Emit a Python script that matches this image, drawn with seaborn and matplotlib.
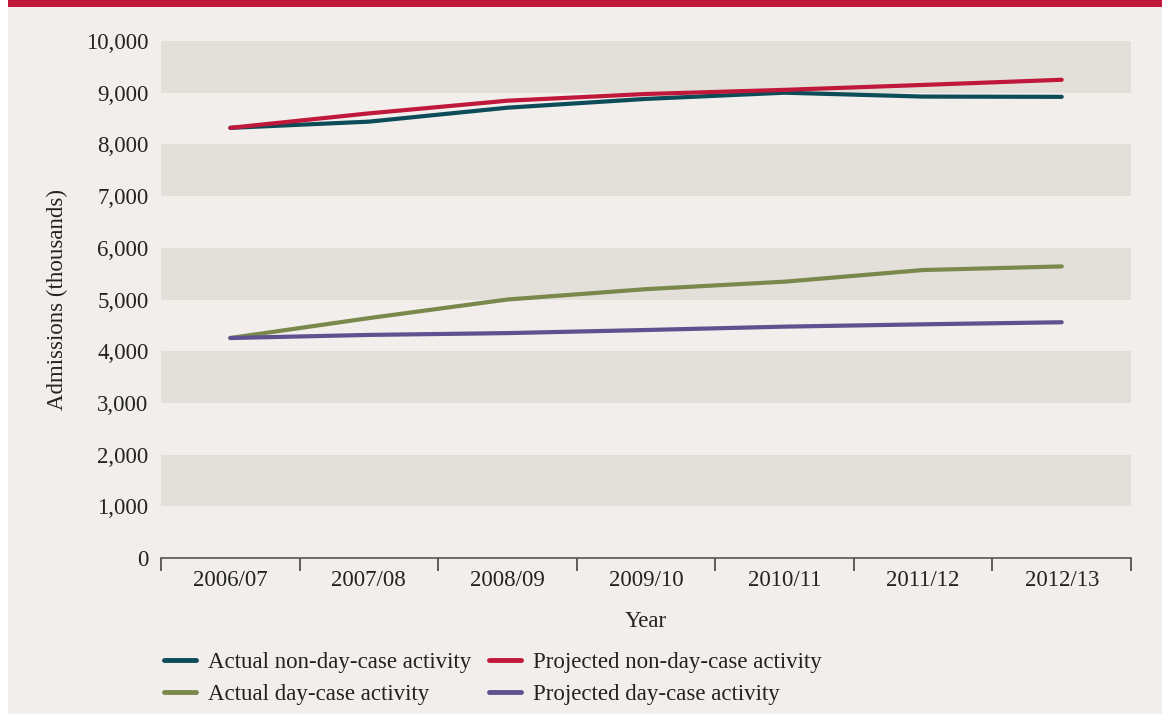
import matplotlib
matplotlib.use("Agg")
import matplotlib.pyplot as plt
import seaborn as sns
import pandas as pd
from matplotlib.patches import Rectangle
from matplotlib.lines import Line2D
from matplotlib.ticker import FuncFormatter, FixedLocator

years = ["2006/07", "2007/08", "2008/09", "2009/10", "2010/11", "2011/12", "2012/13"]
actual_non_day = [8320, 8440, 8710, 8880, 9000, 8925, 8920]
projected_non_day = [8320, 8600, 8845, 8975, 9055, 9150, 9250]
actual_day = [4255, 4640, 5000, 5200, 5345, 5570, 5640]
projected_day = [4255, 4315, 4350, 4410, 4475, 4520, 4560]

series_names = ["Actual non-day-case activity", "Projected non-day-case activity",
                "Actual day-case activity", "Projected day-case activity"]
series_vals = [actual_non_day, projected_non_day, actual_day, projected_day]
colors = {"Actual non-day-case activity": "#0c4b58",
          "Projected non-day-case activity": "#c0183a",
          "Actual day-case activity": "#7a884b",
          "Projected day-case activity": "#5e5190"}

rows = []
for name, vals in zip(series_names, series_vals):
    for i, (yr, v) in enumerate(zip(years, vals)):
        rows.append({"pos": i, "Year": yr, "value": v, "series": name})
df = pd.DataFrame(rows)

sns.set_theme(style="white")
plt.rcParams["font.family"] = ["Liberation Serif", "DejaVu Serif"]
BG = "#f1eeeb"
BAND = "#e3dfd9"
TXT = "#222222"
FS = 16.5

fig = plt.figure(figsize=(11.62, 7.17), dpi=100, facecolor="white")
fig.patches.append(Rectangle((8 / 1162, 0.004), 1 - 8 / 1162, 1 - 0.004, transform=fig.transFigure,
                             facecolor=BG, edgecolor="none", zorder=-10))
fig.patches.append(Rectangle((8 / 1162, 1 - 7 / 717), 1 - 8 / 1162, 7 / 717, transform=fig.transFigure,
                             facecolor="#c0183a", edgecolor="none", zorder=-5))

ax = fig.add_axes([161 / 1162, 1 - 558 / 717, (1131 - 161) / 1162, (558 - 41) / 717])
ax.set_facecolor(BG)

for lo in [1000, 3000, 5000, 7000, 9000]:
    ax.axhspan(lo, lo + 1000, color=BAND, lw=0, zorder=0)

sns.lineplot(data=df, x="pos", y="value", hue="series", hue_order=series_names,
             palette=colors, linewidth=3.0, ax=ax, legend=False, zorder=3,
             solid_capstyle="round")

ax.set_xlim(-0.5, len(years) - 0.5)
ax.set_ylim(0, 10000)
ax.set_yticks(range(0, 10001, 1000))
ax.yaxis.set_major_formatter(FuncFormatter(lambda v, p: f"{int(v):,}"))
ax.set_xticks(range(len(years)))
ax.set_xticklabels(years)
ax.xaxis.set_minor_locator(FixedLocator([i - 0.5 for i in range(len(years) + 1)]))
ax.tick_params(axis="x", which="major", bottom=True, length=0, pad=9, labelsize=FS, labelcolor=TXT)
ax.tick_params(axis="x", which="minor", bottom=True, length=9.5, width=1.2, color="#444444",
               direction="out")
ax.tick_params(axis="y", length=0, pad=9, labelsize=FS, labelcolor=TXT)

for s in ["top", "right", "left"]:
    ax.spines[s].set_visible(False)
ax.spines["bottom"].set_color("#555555")
ax.spines["bottom"].set_linewidth(1.2)

ax.set_xlabel("Year", fontsize=FS, color=TXT, labelpad=14)
ax.set_ylabel("Admissions (thousands)", fontsize=FS, color=TXT, labelpad=13)

order = ["Actual non-day-case activity", "Actual day-case activity",
         "Projected non-day-case activity", "Projected day-case activity"]
h = [Line2D([0], [0], color=colors[n], lw=3.5, solid_capstyle="round") for n in order]
fig.legend(h, order, loc="upper left", bbox_to_anchor=(143 / 1162, 1 - 631 / 717), ncol=2,
           frameon=False, fontsize=FS, handlelength=1.4, handletextpad=0.55,
           columnspacing=0.75, labelspacing=0.5, labelcolor=TXT)

fig.savefig("out.png", dpi=100, facecolor=fig.get_facecolor())
